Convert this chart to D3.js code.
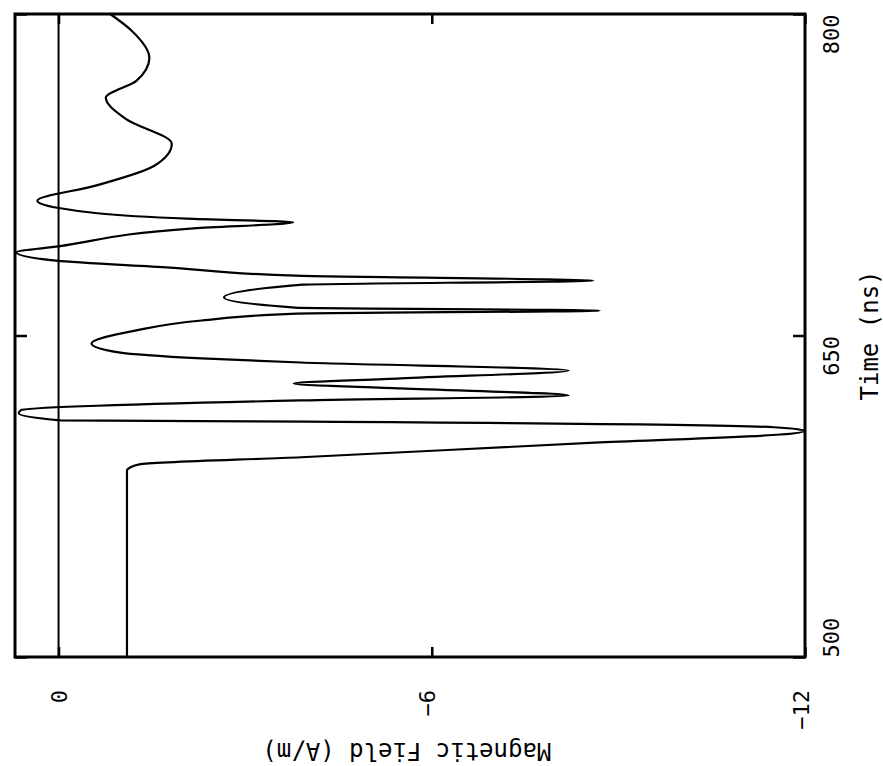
<!DOCTYPE html>
<html>
<head>
<meta charset="utf-8">
<script src="https://cdn.jsdelivr.net/npm/d3@7"></script>
<style>
  body { margin: 0; background: #fff; }
  svg { display: block; }
  text { font-family: "DejaVu Sans Mono", monospace; fill: #000; }
</style>
</head>
<body>
<svg id="chart" width="883" height="766"></svg>
<script>
// time (ns) and magnetic field (A/m), from 800 ns down to 500 ns
var timeNs = [800, 792.1, 779.5, 768.8, 760.9, 751.1, 739.4, 729.2, 719.8, 712.9, 709.6, 704.5, 702.8, 700,
              691.6, 688.8, 684.9, 681.7, 677.9, 675.6, 673.7, 667.7, 663, 661.6, 660.2, 657, 652.3, 646.3,
              642.1, 639.3, 637.4, 633.7, 630, 627.6, 625.3, 622, 619.7, 615.1, 613.7, 610.4, 609.8, 607.2,
              605.5, 603.8, 600.1, 593.2, 589.9, 588.4, 587, 500];
var fieldAm = [-0.83, -1.18, -1.46, -1.25, -0.76, -1.08, -1.82, -1.54, -0.58, 0.34, 0.02, -2.06, -3.77, -2.17,
               0, 0.68, 0.04, -1.79, -3.81, -8.6, -3.92, -2.66, -3.8, -8.7, -3.83, -2.3, -1.23, -0.53,
               -0.97, -2.3, -3.9, -8.2, -5.5, -3.78, -5.5, -8.2, -3.89, 0.61, 0.64, -0.03, -4, -11.5,
               -12, -11.6, -8.7, -3.9, -1.3, -1.15, -1.1, -1.1];

var timeTicks = [500, 650, 800];
var fieldTicks = [0, -6, -12];
var timeLabel = "Time (ns)";
var fieldLabel = "Magnetic Field (A/m)";

var svg = d3.select('#chart');
var frameL = 15, frameR = 805, frameT = 14, frameB = 657;

// the plot is turned on its side: field runs across, time runs up
var x = d3.scaleLinear().domain([0.7, -12]).range([frameL, frameR]);
var y = d3.scaleLinear().domain([500, 800]).range([frameB, frameT]);

var points = timeNs.map((t, i) => ({t: t, f: fieldAm[i]}));

// zero field line
svg.append('line')
   .attr('x1', x(0)).attr('x2', x(0))
   .attr('y1', frameT).attr('y2', frameB)
   .attr('stroke', '#000').attr('stroke-width', 2);

// curve
svg.append('path')
   .datum(points)
   .attr('fill', 'none')
   .attr('stroke', '#000')
   .attr('stroke-width', 2.2)
   .attr('stroke-linejoin', 'round')
   .attr('d', d3.line().x(d => x(d.f)).y(d => y(d.t)).curve(d3.curveMonotoneY));

// frame ticks (inward) on all four sides
var bottomAxis = svg.append('g')
   .attr('transform', 'translate(0,' + frameB + ')')
   .call(d3.axisBottom(x).tickValues(fieldTicks).tickSize(-10).tickFormat(d3.format('d')));
var topAxis = svg.append('g')
   .attr('transform', 'translate(0,' + frameT + ')')
   .call(d3.axisTop(x).tickValues(fieldTicks).tickSize(-10).tickFormat(''));
var rightAxis = svg.append('g')
   .attr('transform', 'translate(' + frameR + ',0)')
   .call(d3.axisRight(y).tickValues(timeTicks).tickSize(-12));
var leftAxis = svg.append('g')
   .attr('transform', 'translate(' + frameL + ',0)')
   .call(d3.axisLeft(y).tickValues(timeTicks).tickSize(-12).tickFormat(''));

[bottomAxis, topAxis, rightAxis, leftAxis].forEach(function(g){
	g.select('.domain').remove();
	g.selectAll('line').attr('stroke', '#000').attr('stroke-width', 2.5);
});

// frame
svg.append('rect')
   .attr('x', frameL).attr('y', frameT)
   .attr('width', frameR - frameL).attr('height', frameB - frameT)
   .attr('fill', 'none').attr('stroke', '#000').attr('stroke-width', 3);

// field tick labels, turned on their side
bottomAxis.selectAll('.tick text')
   .attr('font-size', 22)
   .attr('font-family', '"DejaVu Sans Mono", monospace')
   .attr('y', 0).attr('dy', 0)
   .attr('text-anchor', 'end')
   .attr('transform', d => 'translate(' + (d === 0 ? 8 : 3) + ',33) rotate(-90)');

// time tick labels
rightAxis.selectAll('.tick text')
   .attr('font-size', 22)
   .attr('font-family', '"DejaVu Sans Mono", monospace')
   .attr('x', 0).attr('dy', 0)
   .attr('text-anchor', d => d === 500 ? 'start' : 'end')
   .attr('transform', 'translate(34,0) rotate(-90)');

// axis titles
svg.append('text')
   .attr('transform', 'translate(878,' + ((frameT + frameB) / 2) + ') rotate(-90)')
   .attr('text-anchor', 'middle')
   .attr('font-size', 24)
   .text(timeLabel);

svg.append('text')
   .attr('transform', 'translate(' + x(-5.6) + ',743) rotate(180)')
   .attr('text-anchor', 'middle')
   .attr('font-size', 24)
   .text(fieldLabel);
</script>
</body>
</html>
